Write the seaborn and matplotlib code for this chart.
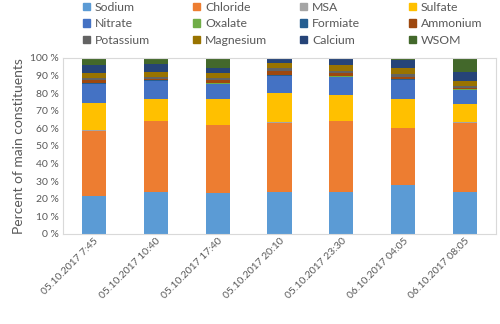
import numpy as np
import pandas as pd
import seaborn as sns
import matplotlib.pyplot as plt
from matplotlib.patches import Patch

samples = ["05.10.2017 7:45", "05.10.2017 10:40", "05.10.2017 17:40",
           "05.10.2017 20:10", "05.10.2017 23:30", "06.10.2017 04:05",
           "06.10.2017 08:05"]

species = ["Sodium", "Chloride", "MSA", "Sulfate", "Nitrate", "Oxalate",
           "Formiate", "Ammonium", "Potassium", "Magnesium", "Calcium", "WSOM"]

# percent of main constituents
sodium = [21.5, 23.6, 23.0, 24.0, 24.0, 27.8, 23.6]
chloride = [37.2, 40.5, 39.0, 39.2, 40.1, 32.5, 39.6]
msa = [0.15, 0.15, 0.15, 0.15, 0.15, 0.15, 0.15]
sulfate = [15.4, 12.3, 14.4, 16.6, 14.6, 16.1, 10.7]
nitrate = [10.8, 10.2, 8.8, 9.8, 10.5, 11.0, 8.0]
oxalate = [0.3, 0.4, 0.2, 0.2, 0.2, 0.2, 0.3]
formiate = [0.2, 0.3, 0.2, 0.2, 0.2, 0.2, 0.2]
ammonium = [1.7, 0.6, 1.7, 2.5, 1.7, 1.5, 0.6]
potassium = [1.1, 0.9, 1.1, 1.4, 1.3, 1.3, 0.7]
magnesium = [3.1, 3.1, 2.9, 2.9, 3.3, 3.4, 3.0]
calcium = [4.3, 4.8, 2.9, 2.7, 3.3, 4.6, 5.0]
wsom = [4.2, 3.1, 5.6, 0.3, 0.6, 1.2, 8.1]

colors = ["#5B9BD5", "#ED7D31", "#A5A5A5", "#FFC000", "#4472C4", "#70AD47",
          "#255E91", "#9E480E", "#636363", "#997300", "#264478", "#43682B"]

df = pd.DataFrame(
    {"Sodium": sodium, "Chloride": chloride, "MSA": msa, "Sulfate": sulfate,
     "Nitrate": nitrate, "Oxalate": oxalate, "Formiate": formiate,
     "Ammonium": ammonium, "Potassium": potassium, "Magnesium": magnesium,
     "Calcium": calcium, "WSOM": wsom},
    index=samples)
cum = df.cumsum(axis=1)

sns.set_style("white")
plt.rcParams["font.family"] = ["Lato", "DejaVu Sans"]
grey = "#595959"

fig = plt.figure(figsize=(5, 3.24), dpi=100)
ax = fig.add_axes([0.126, 0.278, 0.866, 0.543])

# stacked bars: draw cumulative totals from the top layer down
for name, col in reversed(list(zip(species, colors))):
    sns.barplot(x=samples, y=cum[name].values, color=col, width=0.39,
                saturation=1, linewidth=0, ax=ax)

ax.set_xlim(-0.5, 6.5)
ax.set_ylim(0, 100)
ax.set_yticks(np.arange(0, 101, 10))
ax.set_yticklabels([f"{v} %" for v in range(0, 101, 10)])
ax.tick_params(axis="y", labelsize=7.5, colors=grey, length=0, pad=3)
ax.tick_params(axis="x", labelsize=7.5, colors=grey, length=0, pad=2)
plt.setp(ax.get_xticklabels(), rotation=45, ha="right", rotation_mode="anchor")
ax.set_ylabel("Percent of main constituents", fontsize=10, color=grey, labelpad=4)
ax.set_xlabel("")
for s in ax.spines.values():
    s.set_color("#D9D9D9")
    s.set_linewidth(0.8)

# legend: 4 fixed-width columns, filled row by row
col_x = [0.162, 0.382, 0.596, 0.814]
for c in range(4):
    names = [species[r * 4 + c] for r in range(3)]
    handles = [Patch(color=colors[species.index(n)]) for n in names]
    leg = fig.legend(handles, names, loc="upper left",
                     bbox_to_anchor=(col_x[c], 1.0), frameon=False,
                     fontsize=8.8, handlelength=0.6, handleheight=0.6,
                     handletextpad=0.4, labelspacing=0.45, borderpad=0.15,
                     borderaxespad=0)
    for t in leg.get_texts():
        t.set_color(grey)

fig.savefig("out.png", dpi=100)
